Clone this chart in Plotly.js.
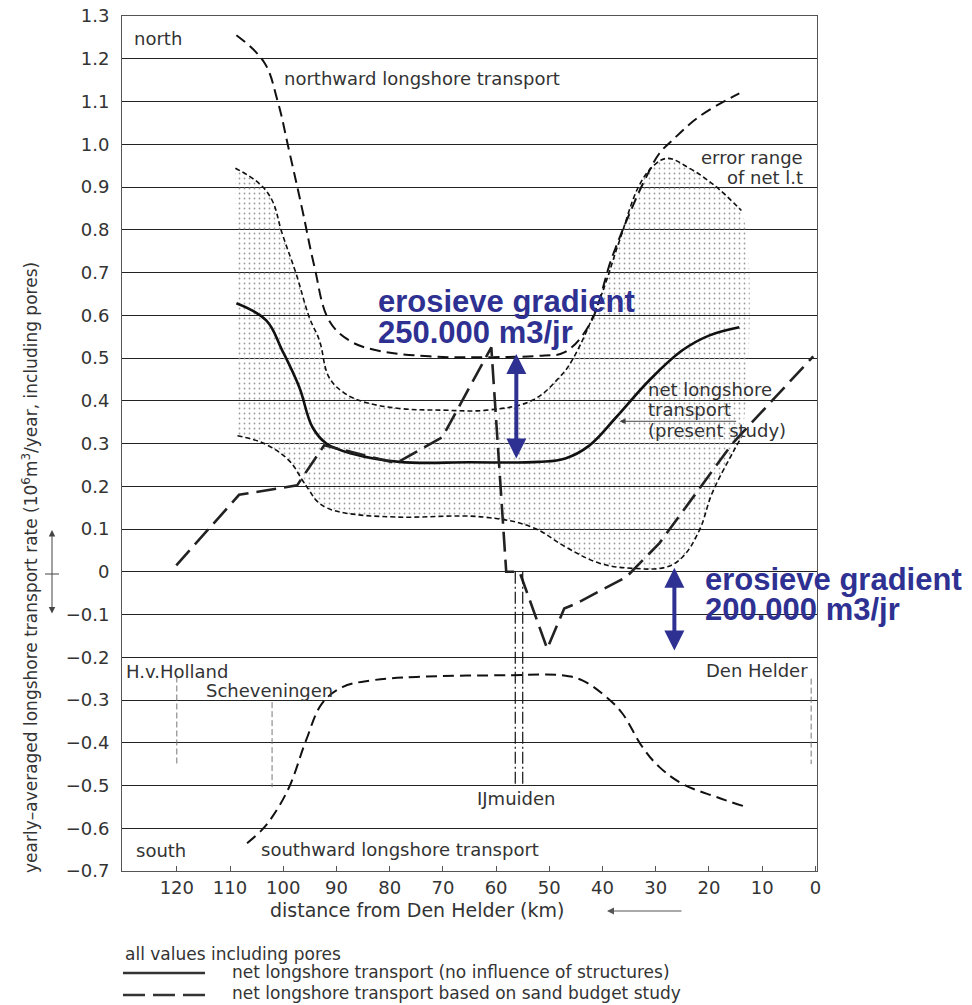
<!DOCTYPE html>
<html>
<head>
<meta charset="utf-8">
<script src="https://cdn.plot.ly/plotly-3.0.1.min.js"></script>
<style>html,body{margin:0;padding:0;background:#fff;}#chart{width:972px;height:1005px;}</style>
</head>
<body>
<div id="chart"></div>
<script>
// ---- data (km from Den Helder, transport 10^6 m3/year) ----
const northKm  = [108.8,103.6,101.1,98.9,96.4,94.2,91.4,87.6,82.5,72.6,60.7,50.9,47.2,42.5,38.2,34.4,31.8,29.3,26.9,21.8,14.3];
const northVal = [1.255,1.192,1.103,0.985,0.846,0.717,0.588,0.541,0.518,0.504,0.502,0.506,0.513,0.577,0.736,0.853,0.923,0.979,1.009,1.065,1.119];

const errUpKm  = [109.0,104.5,102.1,100.2,97.6,95.1,93.2,91.4,88.5,85.0,78.2,70.0,61.8,53.2,48.1,45.7,40.6,36.8,33.1,30.3,27.8,23.7,19.0,13.9];
const errUpVal = [0.944,0.908,0.869,0.791,0.698,0.595,0.541,0.455,0.418,0.398,0.382,0.378,0.378,0.401,0.455,0.495,0.635,0.775,0.904,0.951,0.967,0.944,0.904,0.845];

const errLoKm  = [108.6,103.6,98.9,96.4,95.1,93.8,91.9,88.2,78.8,62.4,53.2,46.8,40.6,34.4,28.0,25.0,21.8,19.4,15.6,13.9];
const errLoVal = [0.318,0.300,0.260,0.214,0.190,0.167,0.150,0.137,0.128,0.128,0.104,0.057,0.020,0.008,0.011,0.034,0.097,0.184,0.277,0.315];

const netKm    = [108.8,103.2,100.2,97.0,94.5,91.9,87.0,78.2,65.0,52.0,47.0,42.5,37.4,31.2,25.0,19.9,14.3];
const netVal   = [0.628,0.588,0.518,0.432,0.338,0.300,0.276,0.257,0.256,0.257,0.265,0.295,0.362,0.448,0.518,0.553,0.572];

const budgetKm  = [120.1,108.3,97.4,92.3,78.8,70.1,60.9,58.1,55.6,50.4,47.2,44.9,35.5,29.3,15.6,0.4];
const budgetVal = [0.015,0.180,0.202,0.296,0.254,0.315,0.525,0.000,0.000,-0.180,-0.086,-0.074,-0.012,0.067,0.300,0.504];

const southKm  = [106.8,104.1,102.1,98.9,95.7,92.7,88.9,83.3,75.0,57.0,47.6,43.8,39.3,36.3,32.5,29.3,25.0,18.6,13.3];
const southVal = [-0.635,-0.605,-0.574,-0.504,-0.394,-0.308,-0.270,-0.254,-0.246,-0.242,-0.242,-0.254,-0.293,-0.331,-0.410,-0.457,-0.496,-0.527,-0.549];

// locations (km) and the vertical extent of their marker lines
const hvhKm = [120, 120],   hvhVal = [-0.245, -0.452];
const schKm = [102.1, 102.1], schVal = [-0.305, -0.504];
const dhKm  = [0.8, 0.8],   dhVal  = [-0.250, -0.450];
const ijm1Km = [56.4, 56.4], ijm2Km = [55.0, 55.0], ijmVal = [0.0, -0.502];

// erosion gradient arrows
const grad1Km = 56.2, grad1Val = [0.513, 0.265];
const grad2Km = 26.5, grad2Val = [0.013, -0.184];

// ticks
const xTicks = [120,110,100,90,80,70,60,50,40,30,20,10,0];
const yTicks = [1.3,1.2,1.1,1.0,0.9,0.8,0.7,0.6,0.5,0.4,0.3,0.2,0.1,0,-0.1,-0.2,-0.3,-0.4,-0.5,-0.6,-0.7];
const yTickText = ['1.3','1.2','1.1','1.0','0.9','0.8','0.7','0.6','0.5','0.4','0.3','0.2','0.1','0','\u22120.1','\u22120.2','\u22120.3','\u22120.4','\u22120.5','\u22120.6','\u22120.7'];

const FONT = 'DejaVu Sans';
const TXT = '#333';
const BLUE = '#2E3192';
const SM = 1.1;

const traces = [
  { // stippled error range
    x: errUpKm.concat(errLoKm.slice().reverse()),
    y: errUpVal.concat(errLoVal.slice().reverse()),
    mode: 'lines', fill: 'toself', line: {width: 0, shape: 'spline', smoothing: 0.9},
    fillcolor: 'rgba(0,0,0,0)',
    fillpattern: {shape: '.', fgcolor: '#999', bgcolor: 'rgba(255,255,255,0)', size: 5, solidity: 0.1},
    hoverinfo: 'skip'
  },
  {x: errUpKm, y: errUpVal, mode: 'lines', line: {color: '#111', width: 1.6, dash: '5px,3px', shape: 'spline', smoothing: SM}},
  {x: errLoKm, y: errLoVal, mode: 'lines', line: {color: '#111', width: 1.6, dash: '5px,3px', shape: 'spline', smoothing: SM}},
  {x: northKm, y: northVal, mode: 'lines', line: {color: '#111', width: 2, dash: '11px,6px', shape: 'spline', smoothing: SM}},
  {x: southKm, y: southVal, mode: 'lines', line: {color: '#111', width: 2, dash: '11px,6px', shape: 'spline', smoothing: SM}},
  {x: netKm, y: netVal, mode: 'lines', line: {color: '#111', width: 2.6, shape: 'spline', smoothing: SM}},
  {x: budgetKm, y: budgetVal, mode: 'lines', line: {color: '#222', width: 2.6, dash: '20px,8px'}},
  {x: hvhKm, y: hvhVal, mode: 'lines', line: {color: '#777', width: 1, dash: '6px,3px'}},
  {x: schKm, y: schVal, mode: 'lines', line: {color: '#777', width: 1, dash: '6px,3px'}},
  {x: dhKm, y: dhVal, mode: 'lines', line: {color: '#777', width: 1, dash: '6px,3px'}},
  {x: ijm1Km, y: ijmVal, mode: 'lines', line: {color: '#111', width: 1.2, dash: '12px,3px,2px,3px'}},
  {x: ijm2Km, y: ijmVal, mode: 'lines', line: {color: '#111', width: 1.2, dash: '12px,3px,2px,3px'}}
];

function txt(x, y, text, anchor, size, extra) {
  return Object.assign({x: x, y: y, xref: 'x', yref: 'y', text: text, showarrow: false,
    xanchor: anchor || 'left', yanchor: 'middle',
    font: {family: FONT, size: size || 18, color: TXT}}, extra || {});
}
function ptxt(x, y, text, anchor, size, extra) {
  return Object.assign({x: x, y: y, xref: 'paper', yref: 'paper', text: text, showarrow: false,
    xanchor: anchor || 'left', yanchor: 'middle',
    font: {family: FONT, size: size || 18, color: TXT}}, extra || {});
}
const blueFont = {family: 'Liberation Sans', size: 31, color: BLUE};

const annotations = [
  txt(128.4, 1.248, 'north'),
  txt(100.2, 1.154, 'northward longshore transport'),
  txt(1.9, 0.969, 'error range', 'right'),
  txt(1.9, 0.923, 'of net l.t', 'right'),
  txt(31.9, 0.427, 'net longshore'),
  txt(31.9, 0.380, 'transport'),
  txt(31.9, 0.331, '(present study)'),
  {x: 36.8, y: 0.352, ax: 14.6, ay: 0.352, xref: 'x', yref: 'y', axref: 'x', ayref: 'y', text: '',
   showarrow: true, arrowhead: 2, arrowsize: 1.2, arrowwidth: 1, arrowcolor: '#444'},
  ptxt(0.003, (871 - 671) / 855, 'H.v.Holland'),
  txt(114.8, -0.277, 'Scheveningen'),
  txt(1.1, -0.2316, 'Den Helder', 'right'),
  txt(56.2, -0.530, 'IJmuiden', 'center'),
  txt(128.0, -0.651, 'south'),
  txt(104.5, -0.649, 'southward longshore transport'),
  // blue erosion gradient labels
  txt(82.5, 0.632, '<b>erosieve gradient</b>', 'left', 31, {font: blueFont}),
  txt(82.5, 0.560, '<b>250.000 m3/jr</b>', 'left', 31, {font: blueFont}),
  txt(21.2, -0.018, '<b>erosieve gradient</b>', 'left', 31, {font: blueFont}),
  txt(21.2, -0.088, '<b>200.000 m3/jr</b>', 'left', 31, {font: blueFont}),
  {x: grad1Km, y: grad1Val[1], ax: grad1Km, ay: grad1Val[0], xref: 'x', yref: 'y', axref: 'x', ayref: 'y', text: '',
   showarrow: true, arrowhead: 2, arrowside: 'end+start', arrowsize: 1, arrowwidth: 4, arrowcolor: BLUE},
  {x: grad2Km, y: grad2Val[1], ax: grad2Km, ay: grad2Val[0], xref: 'x', yref: 'y', axref: 'x', ayref: 'y', text: '',
   showarrow: true, arrowhead: 2, arrowside: 'end+start', arrowsize: 1, arrowwidth: 4, arrowcolor: BLUE},
  // y axis title
  ptxt((30 - 122) / 695, (871 - 568) / 855,
       'yearly\u2013averaged longshore transport rate (10<sup>6</sup>m<sup>3</sup>/year, including pores)',
       'center', 17, {textangle: -90}),
  // side double arrow
  {x: (52 - 122) / 695, y: (871 - 530) / 855, xref: 'paper', yref: 'paper', ax: 0, ay: 85, text: '',
   showarrow: true, arrowhead: 2, arrowside: 'end+start', arrowsize: 1.3, arrowwidth: 1, arrowcolor: '#444'},
  // x axis title + arrow
  ptxt((417 - 122) / 695, (871 - 910) / 855, 'distance from Den Helder (km)', 'center', 19),
  {x: (607 - 122) / 695, y: (871 - 911) / 855, xref: 'paper', yref: 'paper', ax: 76, ay: 0, text: '',
   showarrow: true, arrowhead: 2, arrowsize: 1.4, arrowwidth: 1, arrowcolor: '#555'},
  // legend block
  ptxt((123 - 122) / 695, (871 - 954) / 855, 'all values including pores', 'left', 17),
  ptxt((230 - 122) / 695, (871 - 972) / 855, 'net longshore transport (no influence of structures)', 'left', 17),
  ptxt((230 - 122) / 695, (871 - 993) / 855, 'net longshore transport based on sand budget study', 'left', 17)
];

const shapes = [
  {type: 'line', xref: 'paper', yref: 'paper', x0: (45 - 122) / 695, x1: (59 - 122) / 695,
   y0: (871 - 574) / 855, y1: (871 - 574) / 855, line: {color: '#444', width: 1}},
  {type: 'line', xref: 'paper', yref: 'paper', x0: (123 - 122) / 695, x1: (205 - 122) / 695,
   y0: (871 - 973) / 855, y1: (871 - 973) / 855, line: {color: '#333', width: 2.5}},
  {type: 'line', xref: 'paper', yref: 'paper', x0: (123 - 122) / 695, x1: (205 - 122) / 695,
   y0: (871 - 995) / 855, y1: (871 - 995) / 855, line: {color: '#333', width: 2.5, dash: '22px,8px'}}
];

const layout = {
  width: 972, height: 1005,
  margin: {l: 122, r: 155, t: 16, b: 134, pad: 0},
  paper_bgcolor: '#fff', plot_bgcolor: '#fff',
  showlegend: false,
  font: {family: FONT, color: TXT},
  xaxis: {
    range: [130.3, -0.3], autorange: false,
    tickvals: xTicks, ticktext: xTicks.map(String),
    ticks: 'inside', ticklen: 5, tickcolor: '#555',
    showgrid: false, zeroline: false,
    showline: true, mirror: true, linecolor: '#555', linewidth: 1,
    tickfont: {family: FONT, size: 18, color: TXT}
  },
  yaxis: {
    range: [-0.7, 1.3], autorange: false,
    tickvals: yTicks, ticktext: yTickText,
    ticks: '', ticklabelstandoff: 8,
    showgrid: true, gridcolor: '#222', gridwidth: 1,
    zeroline: true, zerolinecolor: '#222', zerolinewidth: 1,
    showline: true, mirror: true, linecolor: '#555', linewidth: 1,
    tickfont: {family: FONT, size: 18, color: TXT}
  },
  annotations: annotations,
  shapes: shapes
};

Plotly.newPlot('chart', traces, layout, {displayModeBar: false, staticPlot: true});
</script>
</body>
</html>
